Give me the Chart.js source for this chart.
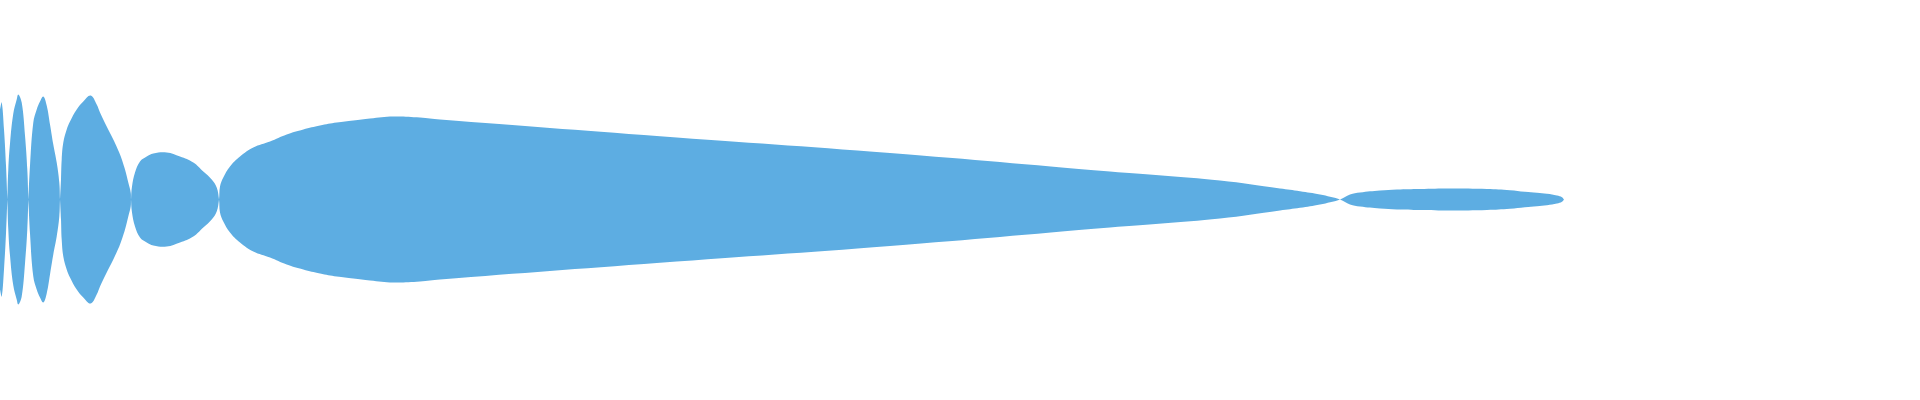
<!DOCTYPE html>
<html>
<head>
<meta charset="utf-8">
<script src="https://cdn.jsdelivr.net/npm/chart.js@4/dist/chart.umd.min.js"></script>
<style>
  html, body { margin: 0; padding: 0; background: #ffffff; }
  #wrap { width: 1920px; height: 400px; }
</style>
</head>
<body>
<div id="wrap"><canvas id="c" width="1920" height="400"></canvas></div>
<script>
// positions along the (hidden) horizontal axis
const positions = [
  0, 0.85, 2, 3, 3.65,
  4.15, 5, 6.65, 8.35, 9.15, 10.85, 12.5, 13.65, 14.2,
  15, 16.65, 18.35, 20, 21.65, 23.35, 25, 26.65, 28.35, 29.65, 30,
  30.5, 30.85, 31.65, 33.35, 35, 38.35, 41.65, 45.35, 48.35, 50, 53.35, 56.65, 60, 62.5, 64.15, 65.35, 65.5,
  66, 67.5, 70, 73.35, 76.65, 83.35, 90, 96.65, 101.65, 105.85, 108.35, 109.5,
  110, 111.65, 115, 120, 126.65, 135, 143.35, 151.65, 160, 168.35, 176.65, 185, 196.65, 210, 220, 330, 445, 555, 610, 640, 650, 660, 670,
  675, 680, 690, 698.5, 710, 725, 743.5, 755, 762.5, 768.5, 773.5, 778.5, 781, 782
];
// signed amplitude of the outline (drawn mirrored around zero)
const amplitudes = [
  45, 48.5, 35, 17, 0,
  -15, -28, -43, -50, -52.5, -48.5, -32, -15, 0,
  17, 38.5, 45, 49, 51.5, 47, 37.5, 27.5, 18.5, 8.5, 0,
  -10, -20, -28.5, -35, -39, -45, -49, -52, -47.5, -43.5, -36.5, -30, -22.5, -15, -8.5, -3.5, 0,
  6.5, 13.5, 19, 21.5, 23, 23.5, 21.5, 18.5, 14, 10, 6, 0,
  -6.5, -11, -16.5, -21.5, -26, -29, -32.5, -35, -37, -38.5, -39.5, -40.5, -41.5, -41, -40, -31.65, -23.25, -14, -9.5, -5.5, -4.15, -2.5, 0,
  2.5, 3.5, 4.5, 5, 5.25, 5.5, 5.25, 4.65, 3.85, 3.35, 2.85, 2, 1.15, 0
];

const upper = positions.map((x, i) => ({ x: x, y: amplitudes[i] }));
const lower = positions.map((x, i) => ({ x: x, y: -amplitudes[i] }));

const fillColor = '#5dade2';

new Chart(document.getElementById('c'), {
  type: 'line',
  data: {
    datasets: [
      { data: upper, borderWidth: 0, borderColor: 'rgba(0,0,0,0)', backgroundColor: fillColor, fill: '+1', pointRadius: 0, tension: 0.4 },
      { data: lower, borderWidth: 0, borderColor: 'rgba(0,0,0,0)', backgroundColor: fillColor, fill: false, pointRadius: 0, tension: 0.4 }
    ]
  },
  options: {
    responsive: false,
    animation: false,
    layout: { padding: 0 },
    plugins: { legend: { display: false }, tooltip: { enabled: false } },
    scales: {
      x: { type: 'linear', display: false, min: 0, max: 960 },
      y: { type: 'linear', display: false, min: -100.25, max: 99.75 }
    }
  }
});
</script>
</body>
</html>
